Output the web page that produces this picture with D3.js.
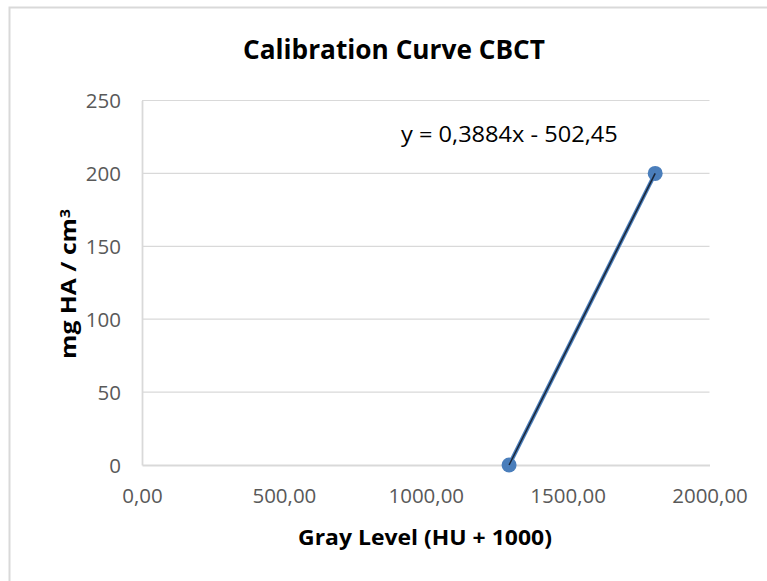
<!DOCTYPE html>
<html>
<head>
<meta charset="utf-8">
<script src="https://cdn.jsdelivr.net/npm/d3@7"></script>
<style>
  html, body { margin: 0; padding: 0; background: #fff; }
  svg { display: block; }
  text { font-family: "Open Sans", "Noto Sans", sans-serif; }
</style>
</head>
<body>
<svg id="chart" width="767" height="581"></svg>
<script>
// Calibration points: gray level vs. hydroxyapatite density
const grayLevel = [1293.7, 1808.6];
const densityHA = [0, 200];
// Linear fit coefficients
const slope = 0.3884;
const intercept = -502.45;
const xTicks = [0, 500, 1000, 1500, 2000];
const yTicks = [0, 50, 100, 150, 200, 250];
const chartTitle = "Calibration Curve CBCT";
const xTitle = "Gray Level (HU + 1000)";
const equationText = "y = 0,3884x - 502,45";

const svg = d3.select("#chart");
const W = 767, H = 581;
const plot = { left: 142, right: 709.5, top: 100.5, bottom: 465 };

// Squeeze/stretch a text horizontally to a given width, keeping its anchor point fixed
function fitWidth(sel, width) {
  sel.each(function () {
    const t = d3.select(this);
    const k = width / this.getComputedTextLength();
    const x0 = +t.attr("x") || 0;
    t.attr("transform", `translate(${x0 * (1 - k)},0) scale(${k},1)`);
  });
}

// Outer chart frame (top and left edges visible)
svg.append("path")
  .attr("d", `M9.5,${H} V7.5 H${W}`)
  .attr("fill", "none")
  .attr("stroke", "#d9d9d9")
  .attr("stroke-width", 2);

const x = d3.scaleLinear().domain([0, 2000]).range([plot.left, plot.right]);
const y = d3.scaleLinear().domain([0, 250]).range([plot.bottom, plot.top]);

// Horizontal gridlines
svg.append("g")
  .selectAll("line")
  .data(yTicks.filter(d => d > 0))
  .join("line")
  .attr("x1", plot.left).attr("x2", plot.right)
  .attr("y1", d => y(d)).attr("y2", d => y(d))
  .attr("stroke", "#d9d9d9").attr("stroke-width", 1.2);

// Axes
const fmtComma = d => d3.format(".2f")(d).replace(".", ",");
const xAxis = svg.append("g")
  .attr("transform", `translate(0,${plot.bottom})`)
  .call(d3.axisBottom(x).tickValues(xTicks).tickFormat(fmtComma).tickSize(0).tickPadding(23));
const yAxis = svg.append("g")
  .attr("transform", `translate(${plot.left},0)`)
  .call(d3.axisLeft(y).tickValues(yTicks).tickSize(0).tickPadding(21));

[xAxis, yAxis].forEach(g => {
  g.select(".domain").attr("stroke", "#d9d9d9").attr("stroke-width", 1.8);
  g.selectAll("text")
    .attr("fill", "#595959")
    .style("font-size", "20.5px")
    .style("font-family", "'Open Sans', 'Noto Sans', sans-serif");
});
yAxis.selectAll("text").attr("dy", "0.36em");
xAxis.selectAll("text").attr("dy", "0.71em");

// Series line (blue) connecting the calibration points
const pts = grayLevel.map((g, i) => [g, densityHA[i]]);
svg.append("path")
  .datum(pts)
  .attr("fill", "none")
  .attr("stroke", "#4a7ebb")
  .attr("stroke-width", 4)
  .attr("d", d3.line().x(d => x(d[0])).y(d => y(d[1])));

// Markers
svg.append("g")
  .selectAll("circle")
  .data(pts)
  .join("circle")
  .attr("cx", d => x(d[0])).attr("cy", d => y(d[1]))
  .attr("r", 7.5)
  .attr("fill", "#4a7ebb");

// Linear trendline over the data range
const xr = d3.extent(grayLevel);
svg.append("path")
  .datum(xr.map(v => [v, slope * v + intercept]))
  .attr("fill", "none")
  .attr("stroke", "#1a2536")
  .attr("stroke-width", 1.5)
  .attr("d", d3.line().x(d => x(d[0])).y(d => y(d[1])));

// Chart title
svg.append("text")
  .attr("x", 394).attr("y", 59)
  .attr("text-anchor", "middle")
  .style("font-size", "26px").style("font-weight", "bold")
  .attr("fill", "#000")
  .text(chartTitle)
  .call(fitWidth, 302);

// X axis title
svg.append("text")
  .attr("x", 425).attr("y", 545)
  .attr("text-anchor", "middle")
  .style("font-size", "22px").style("font-weight", "bold")
  .attr("fill", "#000")
  .text(xTitle)
  .call(fitWidth, 254);

// Y axis title (rotated)
const yt = svg.append("g")
  .attr("transform", "translate(76,284) rotate(-90)")
  .append("text")
  .attr("x", 0).attr("y", 0)
  .attr("text-anchor", "middle")
  .style("font-size", "22px").style("font-weight", "bold")
  .attr("fill", "#000");
yt.append("tspan").text("mg HA / cm");
yt.append("tspan").attr("dy", "-0.45em").style("font-size", "14px").text("3");
yt.call(fitWidth, 150);

// Trendline equation
svg.append("text")
  .attr("x", 401).attr("y", 142)
  .style("font-size", "22px")
  .attr("fill", "#000")
  .text(equationText)
  .call(fitWidth, 217);
</script>
</body>
</html>
